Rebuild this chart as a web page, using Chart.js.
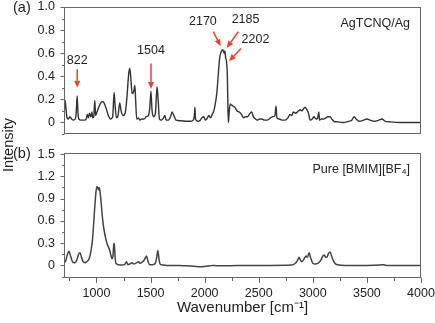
<!DOCTYPE html>
<html>
<head>
<meta charset="utf-8">
<script src="https://cdn.jsdelivr.net/npm/chart.js@4.4.1/dist/chart.umd.min.js"></script>
<style>
html, body { margin: 0; padding: 0; background: #fff; }
#wrap { position: relative; width: 435px; height: 323px; font-family: "Liberation Sans", Arial, sans-serif; }
#boxA { position: absolute; left: 0; top: 0; width: 435px; height: 140px; }
#boxB { position: absolute; left: 0; top: 140px; width: 435px; height: 183px; }
#ylab { position: absolute; left: 7.5px; top: 145px; transform: translate(-50%, -50%) rotate(-90deg);
        font-size: 14.5px; color: #222; white-space: nowrap; }
</style>
</head>
<body>
<div id="wrap">
  <div id="boxA"><canvas id="chart-a"></canvas></div>
  <div id="boxB"><canvas id="chart-b"></canvas></div>
  <div id="ylab">Intensity</div>
</div>
<script>
// (a) AgTCNQ/Ag spectrum
const waveA = [700, 710, 718, 728, 740, 755, 770, 790, 808, 815, 822, 828, 837, 860, 890, 905, 915, 925, 935, 948,
  958, 965, 975, 985, 992, 1005, 1020, 1040, 1055, 1070, 1090, 1110, 1130, 1150, 1163, 1172, 1185, 1200, 1215, 1228,
  1245, 1265, 1280, 1298, 1308, 1318, 1330, 1345, 1355, 1362, 1372, 1390, 1400, 1420, 1440, 1460, 1480, 1492, 1504, 1514,
  1530, 1545, 1560, 1570, 1582, 1600, 1620, 1632, 1645, 1665, 1685, 1700, 1715, 1735, 1780, 1830, 1870, 1895, 1905, 1910,
  1916, 1935, 1960, 1975, 1993, 2005, 2020, 2040, 2055, 2070, 2085, 2100, 2112, 2125, 2138, 2152, 2165, 2172, 2180, 2187,
  2194, 2202, 2210, 2216, 2220, 2226, 2236, 2250, 2265, 2280, 2300, 2320, 2340, 2360, 2375, 2395, 2420, 2435, 2450, 2470,
  2485, 2510, 2530, 2555, 2580, 2610, 2630, 2650, 2660, 2668, 2690, 2720, 2745, 2770, 2790, 2805, 2820, 2840, 2867, 2885,
  2900, 2915, 2930, 2945, 2960, 2975, 2995, 3010, 3030, 3045, 3055, 3062, 3080, 3100, 3120, 3140, 3160, 3175, 3195, 3230,
  3280, 3330, 3360, 3382, 3400, 3430, 3470, 3500, 3530, 3570, 3610, 3640, 3670, 3720, 3800, 3900, 4000];
const intensityA = [0.05, 0.19, 0.12, 0.04, 0.03, 0.05, 0.03, 0.02, 0.04, 0.12, 0.23, 0.1, 0.03, 0.02, 0.02, 0.03, 0.07, 0.04, 0.08, 0.05,
  0.09, 0.04, 0.05, 0.19, 0.06, 0.09, 0.13, 0.17, 0.18, 0.17, 0.12, 0.06, 0.03, 0.05, 0.26, 0.15, 0.04, 0.06, 0.17, 0.1,
  0.06, 0.08, 0.2, 0.42, 0.47, 0.38, 0.25, 0.27, 0.32, 0.2, 0.03, 0.04, 0.02, 0.03, 0.03, 0.05, 0.06, 0.12, 0.27, 0.1,
  0.05, 0.08, 0.31, 0.2, 0.03, 0.02, 0.04, 0.06, 0.02, 0.02, 0.05, 0.09, 0.06, 0.02, 0.015, 0.01, 0.01, 0.02, 0.06, 0.13,
  0.03, 0.01, 0.02, 0.04, 0.05, 0.02, 0.03, 0.06, 0.04, 0.07, 0.1, 0.17, 0.25, 0.4, 0.55, 0.61, 0.63, 0.62, 0.6, 0.62,
  0.56, 0.53, 0.4, 0.1, 0.0, 0.08, 0.16, 0.15, 0.14, 0.13, 0.1, 0.09, 0.07, 0.04, 0.05, 0.05, 0.08, 0.09, 0.05, 0.03,
  0.02, 0.03, 0.03, 0.02, 0.02, 0.04, 0.05, 0.06, 0.14, 0.04, 0.03, 0.02, 0.02, 0.04, 0.07, 0.06, 0.09, 0.08, 0.1, 0.11,
  0.1, 0.12, 0.13, 0.11, 0.08, 0.02, 0.03, 0.05, 0.03, 0.04, 0.09, 0.02, 0.03, 0.03, 0.04, 0.05, 0.05, 0.03, 0.01, 0.005,
  0.0, 0.01, 0.02, 0.05, 0.03, 0.01, 0.02, 0.03, 0.02, 0.01, 0.02, 0.03, 0.01, 0.005, 0.0, 0.0, 0.0];

// (b) pure [BMIM][BF4] spectrum
const waveB = [700, 715, 730, 746, 760, 775, 790, 805, 820, 835, 848, 862, 877, 892, 910, 932, 950, 963, 975, 985,
  995, 1003, 1012, 1018, 1025, 1032, 1040, 1050, 1061, 1075, 1086, 1097, 1107, 1123, 1135, 1144, 1152, 1160, 1165, 1172,
  1180, 1200, 1230, 1260, 1278, 1290, 1310, 1327, 1345, 1365, 1389, 1400, 1420, 1440, 1455, 1463, 1475, 1494, 1520, 1545,
  1558, 1568, 1577, 1587, 1610, 1648, 1700, 1800, 1900, 1956, 2000, 2050, 2080, 2110, 2200, 2400, 2600, 2800, 2836, 2860,
  2873, 2885, 2900, 2920, 2938, 2950, 2966, 2980, 3000, 3020, 3050, 3075, 3090, 3105, 3120, 3130, 3145, 3160, 3175, 3191,
  3210, 3240, 3300, 3500, 3620, 3650, 3680, 3800, 4000];
const intensityB = [0.03, 0.06, 0.14, 0.19, 0.13, 0.06, 0.035, 0.04, 0.08, 0.15, 0.17, 0.11, 0.05, 0.035, 0.05, 0.09, 0.2, 0.34, 0.58, 0.8,
  0.98, 1.06, 1.05, 1.02, 1.05, 1.0, 0.9, 0.73, 0.57, 0.44, 0.36, 0.3, 0.26, 0.2, 0.13, 0.09, 0.12, 0.28, 0.3, 0.12,
  0.03, 0.01, 0.005, 0.01, 0.05, 0.01, 0.02, 0.035, 0.02, 0.03, 0.05, 0.03, 0.04, 0.07, 0.11, 0.125, 0.06, 0.01, 0.01, 0.03,
  0.12, 0.2, 0.1, 0.02, 0.005, 0.0, 0.0, -0.005, -0.01, -0.02, -0.015, -0.005, 0.0, -0.005, -0.005, 0.0, 0.0, 0.005, 0.025, 0.07,
  0.11, 0.07, 0.05, 0.09, 0.125, 0.11, 0.17, 0.1, 0.03, 0.02, 0.03, 0.07, 0.12, 0.14, 0.11, 0.11, 0.16, 0.18, 0.12, 0.06,
  0.02, 0.005, 0.0, 0.0, 0.005, 0.01, 0.0, 0.0, 0.0];

// ticks (labelled ones are the multiples of 500 / 0.2 / 0.3)
const xTickValues = [750, 1000, 1250, 1500, 1750, 2000, 2250, 2500, 2750, 3000, 3250, 3500, 3750, 4000];
const yTickValuesA = [-0.1, 0, 0.1, 0.2, 0.3, 0.4, 0.5, 0.6, 0.7, 0.8, 0.9, 1.0];
const yTickValuesB = [-0.15, 0, 0.15, 0.3, 0.45, 0.6, 0.75, 0.9, 1.05, 1.2, 1.35, 1.5];

const peakLabels = ['822', '1504', '2170', '2185', '2202'];
const sampleNames = ['AgTCNQ/Ag', 'Pure [BMIM][BF\u2084]'];
const panelNames = ['(a)', '(b)'];

Chart.defaults.font.family = "'Liberation Sans', Arial, sans-serif";
Chart.defaults.font.size = 12.5;
Chart.defaults.color = '#222';

const axisColor = '#666';
const arrowColor = '#e8452f';

function toPoints(xs, ys) {
    return xs.map((x, i) => ({x: x, y: ys[i]}));
}

function isMultiple(v, step) {
    const r = v / step;
    return Math.abs(r - Math.round(r)) < 1e-6;
}

// arrow layout in data units: label position, arrow tail, arrow tip
const arrowLayout = [
    {tx: 822, ty: 0.54, from: [822, 0.46], to: [822, 0.30]},
    {tx: 1504, ty: 0.62, from: [1504, 0.51], to: [1504, 0.29]},
    {tx: 1984, ty: 0.87, from: [2080, 0.786], to: [2148, 0.66]},
    {tx: 2378, ty: 0.887, from: [2311, 0.786], to: [2204, 0.645]},
    {tx: 2470, ty: 0.714, from: [2336, 0.64], to: [2225, 0.53]}
];

function drawArrow(ctx, x1, y1, x2, y2) {
    const ang = Math.atan2(y2 - y1, x2 - x1);
    const head = 7, half = 3;
    const bx = x2 - head * Math.cos(ang), by = y2 - head * Math.sin(ang);
    ctx.beginPath();
    ctx.moveTo(x1, y1);
    ctx.lineTo(bx, by);
    ctx.stroke();
    ctx.beginPath();
    ctx.moveTo(x2, y2);
    ctx.lineTo(bx + half * Math.sin(ang), by - half * Math.cos(ang));
    ctx.lineTo(bx - half * Math.sin(ang), by + half * Math.cos(ang));
    ctx.closePath();
    ctx.fill();
}

function setTicks(values) {
    return scale => { scale.ticks = values.map(v => ({value: v})); };
}

function noPadY(width) {
    return s => { s.width = width; s.paddingTop = 0; s.paddingBottom = 0; };
}

const framePlugin = {
    id: 'frame',
    afterDraw(chart, args, opts) {
        const {ctx, chartArea: a, scales} = chart;
        ctx.save();
        ctx.strokeStyle = axisColor;
        ctx.lineWidth = 1;
        const l = Math.round(a.left) + 0.5, t = Math.round(a.top) + 0.5;
        const r = Math.round(a.right) - 0.5, b = Math.round(a.bottom) - 0.5;
        ctx.strokeRect(l, t, r - l, b - t);

        // y ticks
        scales.y.ticks.forEach(tk => {
            const y = Math.round(scales.y.getPixelForValue(tk.value)) + 0.5;
            const len = tk.label ? 4 : 2.5;
            ctx.beginPath();
            ctx.moveTo(l, y);
            ctx.lineTo(l - len, y);
            ctx.stroke();
        });
        // x ticks (bottom panel only)
        if (opts.xTicks) {
            scales.x.ticks.forEach(tk => {
                const x = Math.round(scales.x.getPixelForValue(tk.value)) + 0.5;
                const len = tk.label ? 5.5 : 3.5;
                ctx.beginPath();
                ctx.moveTo(x, b);
                ctx.lineTo(x, b + len);
                ctx.stroke();
            });
        }

        // panel letter and sample name
        ctx.fillStyle = '#222';
        ctx.font = "14.5px 'Liberation Sans', Arial, sans-serif";
        ctx.textBaseline = 'middle';
        ctx.textAlign = 'left';
        ctx.fillText(opts.panel, 13, a.top + 1);
        ctx.font = "12.5px 'Liberation Sans', Arial, sans-serif";
        ctx.textAlign = 'right';
        ctx.fillText(opts.sample, a.right - 11, a.top + 16.5);

        // peak arrows
        if (opts.arrows) {
            ctx.strokeStyle = arrowColor;
            ctx.fillStyle = arrowColor;
            ctx.lineWidth = 1.5;
            opts.arrows.forEach(ar => {
                drawArrow(ctx,
                    scales.x.getPixelForValue(ar.from[0]), scales.y.getPixelForValue(ar.from[1]),
                    scales.x.getPixelForValue(ar.to[0]), scales.y.getPixelForValue(ar.to[1]));
            });
            ctx.fillStyle = '#222';
            ctx.textAlign = 'center';
            opts.arrows.forEach((ar, i) => {
                ctx.fillText(peakLabels[i], scales.x.getPixelForValue(ar.tx), scales.y.getPixelForValue(ar.ty));
            });
        }
        ctx.restore();
    }
};

new Chart(document.getElementById('chart-a'), {
    type: 'line',
    data: {
        datasets: [{
            data: toPoints(waveA, intensityA),
            borderColor: '#333',
            borderWidth: 1.4,
            pointRadius: 0,
            cubicInterpolationMode: 'monotone'
        }]
    },
    plugins: [framePlugin],
    options: {
        responsive: true,
        maintainAspectRatio: false,
        animation: false,
        layout: {padding: {top: 7, right: 14, bottom: 6, left: 0}},
        scales: {
            x: {type: 'linear', min: 700, max: 4000, display: false},
            y: {
                min: -0.1,
                max: 1.0,
                grid: {display: false, drawTicks: false},
                border: {display: false},
                afterBuildTicks: setTicks(yTickValuesA),
                ticks: {
                    autoSkip: false,
                    padding: 9,
                    callback: v => (v >= 0 && isMultiple(v, 0.2)) ? (v === 0 ? '0' : v.toFixed(1)) : ''
                },
                afterFit: noPadY(64)
            }
        },
        plugins: {
            legend: {display: false},
            tooltip: {enabled: false},
            frame: {panel: panelNames[0], sample: sampleNames[0], arrows: arrowLayout, xTicks: false}
        }
    }
});

new Chart(document.getElementById('chart-b'), {
    type: 'line',
    data: {
        datasets: [{
            data: toPoints(waveB, intensityB),
            borderColor: '#444',
            borderWidth: 1.5,
            pointRadius: 0,
            cubicInterpolationMode: 'monotone'
        }]
    },
    plugins: [framePlugin],
    options: {
        responsive: true,
        maintainAspectRatio: false,
        animation: false,
        layout: {padding: {top: 13, right: 14, bottom: 0, left: 0}},
        scales: {
            x: {
                type: 'linear',
                min: 700,
                max: 4000,
                grid: {display: false, drawTicks: false},
                border: {display: false},
                afterBuildTicks: setTicks(xTickValues),
                ticks: {
                    autoSkip: false,
                    maxRotation: 0,
                    padding: 8,
                    callback: v => isMultiple(v, 500) ? String(v) : ''
                },
                title: {
                    display: true,
                    text: 'Wavenumber [cm\u207B\u00B9]',
                    font: {size: 15},
                    padding: {top: 2, bottom: 6}
                },
                afterFit: s => { s.height = 45; s.paddingLeft = 0; s.paddingRight = 0; }
            },
            y: {
                min: -0.17,
                max: 1.515,
                grid: {display: false, drawTicks: false},
                border: {display: false},
                afterBuildTicks: setTicks(yTickValuesB),
                ticks: {
                    autoSkip: false,
                    padding: 9,
                    callback: v => (v >= 0 && isMultiple(v, 0.3)) ? (v === 0 ? '0' : v.toFixed(1)) : ''
                },
                afterFit: noPadY(64)
            }
        },
        plugins: {
            legend: {display: false},
            tooltip: {enabled: false},
            frame: {panel: panelNames[1], sample: sampleNames[1], arrows: null, xTicks: true}
        }
    }
});
</script>
</body>
</html>
